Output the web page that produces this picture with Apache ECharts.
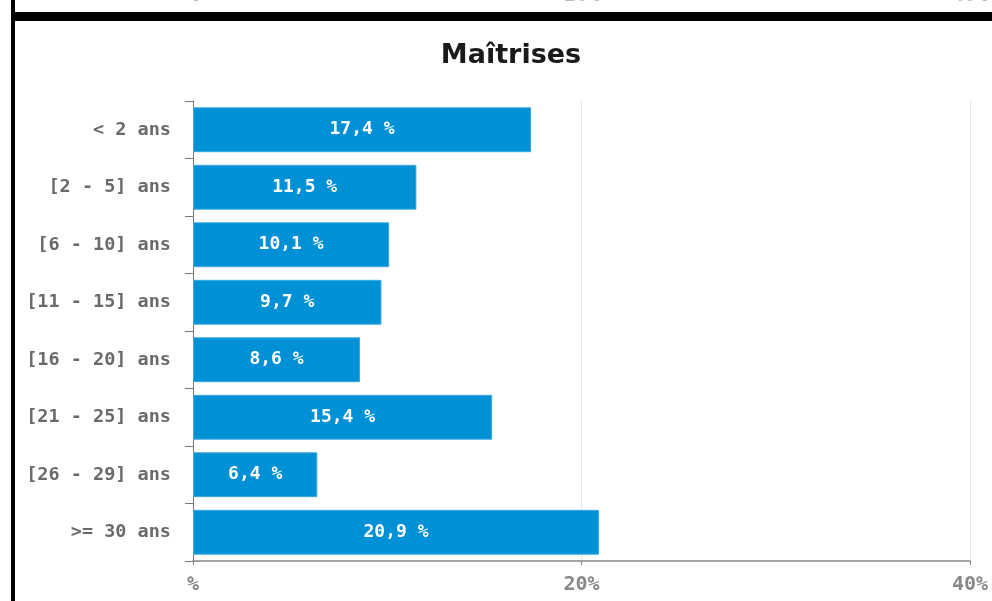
<!DOCTYPE html>
<html>
<head>
<meta charset="utf-8">
<script src="https://cdn.jsdelivr.net/npm/echarts@6/dist/echarts.min.js"></script>
<style>
  html, body { margin: 0; padding: 0; background: #fff; }
  #main { width: 992px; height: 601px; }
</style>
</head>
<body>
<div id="main"></div>
<script>
// data
var categories = ['< 2 ans', '[2 - 5] ans', '[6 - 10] ans', '[11 - 15] ans', '[16 - 20] ans', '[21 - 25] ans', '[26 - 29] ans', '>= 30 ans'];
var values = [17.4, 11.5, 10.1, 9.7, 8.6, 15.4, 6.4, 20.9];
var xTicks = [0, 20, 40];

var monoFont = 'DejaVu Sans Mono';

var chart = echarts.init(document.getElementById('main'));

var option = {
  backgroundColor: '#fff',
  animation: false,
  title: {
    text: 'Maîtrises',
    left: 506,
    top: 37,
    textAlign: 'center',
    textStyle: { fontFamily: 'DejaVu Sans', fontSize: 27, fontWeight: 600, color: '#1a1a1a' }
  },
  grid: { left: 193, right: 22, top: 101, bottom: 40 },
  xAxis: {
    type: 'value',
    min: xTicks[0],
    max: xTicks[xTicks.length - 1],
    interval: 20,
    axisLine: { show: true, lineStyle: { color: '#888', width: 1.5 } },
    axisTick: { show: true, length: 4, lineStyle: { color: '#888' } },
    splitLine: { show: true, lineStyle: { color: '#e6e6e6' } },
    axisLabel: {
      margin: 14,
      color: '#888',
      fontFamily: monoFont,
      fontWeight: 'bold',
      fontSize: 20,
      formatter: function (v) { return v === 0 ? '%' : v + '%'; }
    }
  },
  yAxis: {
    type: 'category',
    data: categories,
    inverse: true,
    axisLine: { show: true, lineStyle: { color: '#777' } },
    axisTick: { show: true, length: 8, lineStyle: { color: '#777' } },
    axisLabel: {
      margin: 22,
      color: '#6a6a6a',
      fontFamily: monoFont,
      fontWeight: 'bold',
      fontSize: 18.5
    }
  },
  series: [{
    type: 'bar',
    data: values,
    barCategoryGap: '22%',
    itemStyle: { color: '#0090d5', borderColor: '#3aa9e0', borderWidth: 1 },
    label: {
      show: true,
      position: 'inside',
      color: '#fff',
      fontFamily: monoFont,
      fontWeight: 'bold',
      fontSize: 18,
      formatter: function (p) { return p.value.toFixed(1).replace('.', ',') + ' %'; }
    }
  }],
  graphic: [
    { type: 'rect', left: 11, top: 0, shape: { width: 4, height: 601 }, style: { fill: '#000' }, z: 100 },
    { type: 'rect', left: 11, top: 12, shape: { width: 981, height: 9 }, style: { fill: '#000' }, z: 100 },
    { type: 'text', x: 193, y: 6, style: { text: '%', align: 'center', verticalAlign: 'bottom', fill: '#bbb', font: 'bold 20px "DejaVu Sans Mono"' } },
    { type: 'text', x: 582, y: 6, style: { text: '20%', align: 'center', verticalAlign: 'bottom', fill: '#bbb', font: 'bold 20px "DejaVu Sans Mono"' } },
    { type: 'text', x: 970, y: 6, style: { text: '40%', align: 'center', verticalAlign: 'bottom', fill: '#bbb', font: 'bold 20px "DejaVu Sans Mono"' } }
  ]
};

chart.setOption(option);
</script>
</body>
</html>
